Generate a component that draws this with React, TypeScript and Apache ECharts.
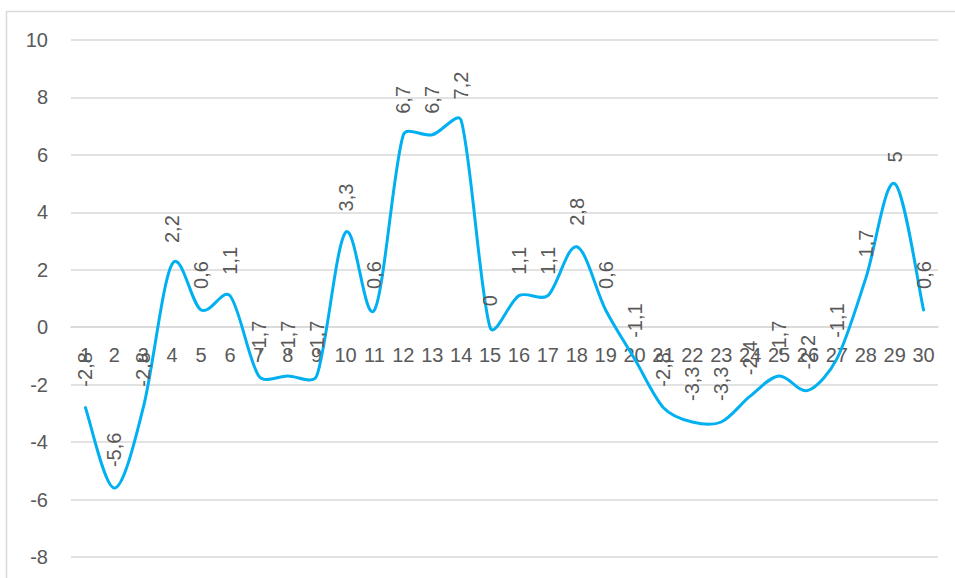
import React, { useEffect, useRef } from "react";
import * as echarts from "echarts";

const categories = ["1","2","3","4","5","6","7","8","9","10","11","12","13","14","15","16","17","18","19","20","21","22","23","24","25","26","27","28","29","30"];
const values = [-2.8, -5.6, -2.8, 2.2, 0.6, 1.1, -1.7, -1.7, -1.7, 3.3, 0.6, 6.7, 6.7, 7.2, 0, 1.1, 1.1, 2.8, 0.6, -1.1, -2.8, -3.3, -3.3, -2.4, -1.7, -2.2, -1.1, 1.7, 5, 0.6];
const yMin = -8;
const yMax = 10;
const yStep = 2;

const FONT = "'Liberation Sans', Arial, sans-serif";
const TEXT = "#595959";
const GRID = "#d9d9d9";
const LINE = "#00B0F0";

export default function App() {
  const ref = useRef<HTMLDivElement>(null);
  useEffect(() => {
    if (!ref.current) return;
    const chart = echarts.init(ref.current, null, { renderer: "svg" });
    const H = 578;
    const top = 40;
    const bottom = 21;
    const plotH = H - top - bottom;
    const zeroOffset = -(plotH * (0 - yMin)) / (yMax - yMin);
    const k = 1 / 6;
    const cap = 0.33;
    chart.setOption({
      animation: false,
      backgroundColor: "#ffffff",
      grid: { left: 71, right: 17, top, bottom, containLabel: false },
      graphic: [
        {
          type: "rect",
          shape: { x: 6.5, y: 11.5, width: 970, height: 620 },
          style: { fill: "none", stroke: GRID, lineWidth: 1.5 },
          silent: true,
          z: -1,
        },
      ],
      xAxis: {
        type: "category",
        data: categories,
        boundaryGap: true,
        offset: zeroOffset,
        axisLine: { show: true, onZero: false, lineStyle: { color: GRID, width: 1.5 } },
        axisTick: { show: false },
        axisLabel: { color: TEXT, fontFamily: FONT, fontSize: 20, margin: 18, interval: 0 },
        splitLine: { show: false },
      },
      yAxis: {
        type: "value",
        min: yMin,
        max: yMax,
        interval: yStep,
        axisLine: { show: false },
        axisTick: { show: false },
        axisLabel: { color: TEXT, fontFamily: FONT, fontSize: 20, margin: 23 },
        splitLine: { show: true, lineStyle: { color: GRID, width: 1.5 } },
      },
      series: [
        {
          type: "custom",
          data: values.map((v, i) => [i, v]),
          z: 3,
          renderItem: (params: any, api: any) => {
            if (params.dataIndex !== 0) return null;
            const pts = values.map((v, i) => api.coord([i, v]));
            const n = pts.length;
            const ctrl = (a: number[], b: number[], segLen: number) => {
              const dx = b[0] - a[0];
              const dy = b[1] - a[1];
              const L = Math.hypot(dx, dy) || 1;
              const dist = Math.min(L * k, segLen * cap);
              return [(dx / L) * dist, (dy / L) * dist];
            };
            let d = `M${pts[0][0]},${pts[0][1]}`;
            for (let i = 0; i < n - 1; i++) {
              const p0 = pts[Math.max(0, i - 1)];
              const p1 = pts[i];
              const p2 = pts[i + 1];
              const p3 = pts[Math.min(n - 1, i + 2)];
              const seg = Math.hypot(p2[0] - p1[0], p2[1] - p1[1]);
              const v1 = ctrl(p0, p2, seg);
              const v2 = ctrl(p1, p3, seg);
              const c1x = p1[0] + v1[0];
              const c1y = p1[1] + v1[1];
              const c2x = p2[0] - v2[0];
              const c2y = p2[1] - v2[1];
              d += ` C${c1x},${c1y} ${c2x},${c2y} ${p2[0]},${p2[1]}`;
            }
            return {
              type: "path",
              shape: { pathData: d },
              style: { fill: "none", stroke: LINE, lineWidth: 3, lineJoin: "round", lineCap: "round" },
            };
          },
        },
        {
          type: "line",
          data: values,
          z: 4,
          symbol: "circle",
          symbolSize: 2,
          showSymbol: true,
          showAllSymbol: true,
          itemStyle: { color: "rgba(0,0,0,0)" },
          lineStyle: { opacity: 0, width: 0 },
          label: {
            show: true,
            position: "top",
            distance: 20,
            rotate: 90,
            align: "left",
            verticalAlign: "middle",
            color: TEXT,
            opacity: 1,
            fontFamily: FONT,
            fontSize: 20,
            formatter: (p: any) => String(p.value).replace(".", ","),
          },
        },
      ],
    });
    return () => chart.dispose();
  }, []);
  return (
    <div
      ref={ref}
      style={{ position: "fixed", left: 0, top: 0, width: 955, height: 578, background: "#fff" }}
    />
  );
}
